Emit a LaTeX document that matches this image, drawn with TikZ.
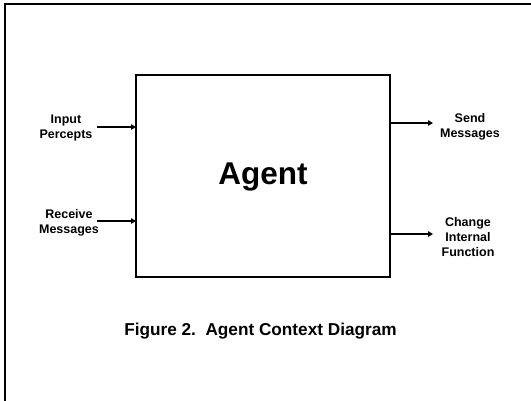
\documentclass[tikz,border=0pt]{standalone}
\usepackage{fontspec}
\setmainfont{Liberation Sans}
\usetikzlibrary{arrows.meta}
\begin{document}
\begin{tikzpicture}[x=1pt,y=-1pt,
  lbl/.style={font=\bfseries\fontsize{12.5}{15}\selectfont, align=center, inner sep=0pt},
  flow/.style={line width=1.8pt, -{Triangle[length=5pt,width=5.5pt]}},
  agentbox/.style={draw, line width=1.1pt}]
\useasboundingbox (0,0) rectangle (531,400);
% outer frame (cut off at right and bottom)
\draw[line width=2.2pt] (5,402) -- (5,4) -- (533,4);
% main box
\coordinate (bnw) at (136,75);
\coordinate (bse) at (390,277);
\draw[agentbox] (bnw) rectangle (bse);
\node[anchor=base, font=\bfseries\fontsize{31.5}{36}\selectfont, inner sep=0pt] (agent) at (263,184) {Agent};
% labels
\node[lbl] (inp) at (66,128) {Input\\Percepts};
\node[lbl] (rcv) at (69,222.5) {Receive\\Messages};
\node[lbl] (snd) at (470,127) {Send\\Messages};
\node[lbl] (chg) at (468,237) {Change\\Internal\\Function};
% arrow anchor points
\coordinate (i1) at (97,127);   \coordinate (i2) at (136,127);
\coordinate (r1) at (97,221);   \coordinate (r2) at (136,221);
\coordinate (s1) at (390,123);  \coordinate (s2) at (433,123);
\coordinate (c1) at (390,234);  \coordinate (c2) at (433,234);
\draw[flow] (i1) -- (i2);
\draw[flow] (r1) -- (r2);
\draw[flow] (s1) -- (s2);
\draw[flow] (c1) -- (c2);
% caption
\node[anchor=base, font=\bfseries\fontsize{17.2}{20}\selectfont, inner sep=0pt] (cap) at (260.5,335) {Figure 2.\ \ Agent Context Diagram};
\end{tikzpicture}
\end{document}
